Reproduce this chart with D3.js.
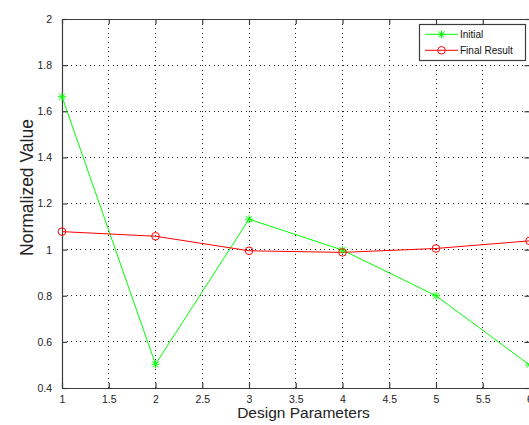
<!DOCTYPE html>
<html>
<head>
<meta charset="utf-8">
<script src="https://cdn.jsdelivr.net/npm/d3@7"></script>
<style>
html,body{margin:0;padding:0;background:#fff;overflow:hidden;}
svg{display:block;font-family:"Liberation Sans",Arial,Helvetica,sans-serif;}
</style>
</head>
<body>
<svg id="chart" width="529" height="425"></svg>
<script>
const designParams = [1, 2, 3, 4, 5, 6];
const initialValues = [1.663, 0.503, 1.132, 0.998, 0.800, 0.500];
const finalValues = [1.078, 1.058, 0.995, 0.988, 1.005, 1.038];
const xTicks = [1, 1.5, 2, 2.5, 3, 3.5, 4, 4.5, 5, 5.5, 6];
const yTicks = [0.4, 0.6, 0.8, 1, 1.2, 1.4, 1.6, 1.8, 2];
const seriesNames = ["Initial", "Final Result"];
const seriesColors = ["#00ff00", "#ff0000"];

const svg = d3.select("#chart");
const L = 62, R = 529.5, T = 19, B = 388;
const x = d3.scaleLinear().domain([1, 6]).range([L, R]);
const y = d3.scaleLinear().domain([0.4, 2]).range([B, T]);
const axisColor = "#3c3c3c";

// grid
const grid = svg.append("g");
grid.selectAll("line.vg").data(xTicks.slice(1, -1)).enter().append("line")
  .attr("x1", d => x(d)).attr("x2", d => x(d)).attr("y1", T).attr("y2", B)
  .attr("stroke", "#222").attr("stroke-width", 1).attr("stroke-dasharray", "1,3.6")
  .attr("shape-rendering", "crispEdges");
grid.selectAll("line.hg").data(yTicks.slice(1, -1)).enter().append("line")
  .attr("y1", d => y(d)).attr("y2", d => y(d)).attr("x1", L).attr("x2", R)
  .attr("stroke", "#222").attr("stroke-width", 1).attr("stroke-dasharray", "1,3.6")
  .attr("shape-rendering", "crispEdges");

const fmt = d => String(d);
// axes (ticks inward)
const axB = svg.append("g").attr("transform", `translate(0,${B})`)
  .call(d3.axisBottom(x).tickValues(xTicks).tickFormat(fmt).tickSizeInner(-5).tickSizeOuter(0).tickPadding(8));
const axT = svg.append("g").attr("transform", `translate(0,${T})`)
  .call(d3.axisTop(x).tickValues(xTicks).tickFormat("").tickSizeInner(-5).tickSizeOuter(0));
const axL = svg.append("g").attr("transform", `translate(${L},0)`)
  .call(d3.axisLeft(y).tickValues(yTicks).tickFormat(fmt).tickSizeInner(-5).tickSizeOuter(0).tickPadding(10));
const axR = svg.append("g").attr("transform", `translate(${R},0)`)
  .call(d3.axisRight(y).tickValues(yTicks).tickFormat("").tickSizeInner(-5).tickSizeOuter(0));
[axB, axT, axL, axR].forEach(a => {
  a.select(".domain").attr("stroke", axisColor).attr("stroke-width", 1.2);
  a.selectAll(".tick line").attr("stroke", axisColor).attr("stroke-width", 1.2);
  a.selectAll("text").attr("fill", "#222").style("font-size", "10.5px")
   .style("font-family", "'Liberation Sans',Arial,sans-serif");
});

// lines
const line = d3.line().x((d, i) => x(designParams[i])).y(d => y(d));
const allSeries = [initialValues, finalValues];
allSeries.forEach((vals, si) => {
  svg.append("path").datum(vals).attr("d", line)
    .attr("fill", "none").attr("stroke", seriesColors[si]).attr("stroke-width", 1);
});

function star(g, cx, cy, c, s) {
  const p = `M${cx - s},${cy}L${cx + s},${cy}M${cx},${cy - s}L${cx},${cy + s}` +
    `M${cx - s * 0.75},${cy - s * 0.75}L${cx + s * 0.75},${cy + s * 0.75}` +
    `M${cx - s * 0.75},${cy + s * 0.75}L${cx + s * 0.75},${cy - s * 0.75}`;
  g.append("path").attr("d", p).attr("stroke", c).attr("stroke-width", 1).attr("fill", "none");
}
function circ(g, cx, cy, c, r) {
  g.append("circle").attr("cx", cx).attr("cy", cy).attr("r", r)
    .attr("fill", "none").attr("stroke", c).attr("stroke-width", 1);
}
const mk = svg.append("g");
initialValues.forEach((v, i) => star(mk, x(designParams[i]), y(v), seriesColors[0], 4));
finalValues.forEach((v, i) => circ(mk, x(designParams[i]), y(v), seriesColors[1], 3.8));

// legend
const lg = svg.append("g");
lg.append("rect").attr("x", 419.5).attr("y", 24.5).attr("width", 106).attr("height", 36)
  .attr("fill", "#fff").attr("stroke", axisColor).attr("stroke-width", 1.2);
const legY = [34.3, 50.3];
seriesNames.forEach((n, i) => {
  lg.append("line").attr("x1", 425).attr("x2", 458).attr("y1", legY[i]).attr("y2", legY[i])
    .attr("stroke", seriesColors[i]).attr("stroke-width", 1);
  if (i === 0) star(lg, 441.5, legY[i], seriesColors[i], 4);
  else circ(lg, 441.5, legY[i], seriesColors[i], 3.8);
  lg.append("text").attr("x", 460).attr("y", legY[i] + 3.6).text(n)
    .attr("fill", "#111").style("font-size", "10px");
});

// axis labels
svg.append("text").attr("x", 303.5).attr("y", 418).attr("text-anchor", "middle")
  .style("font-size", "15.5px").attr("fill", "#222").text("Design Parameters");
svg.append("text").attr("transform", "translate(32.5,187.5) rotate(-90)").attr("text-anchor", "middle")
  .style("font-size", "17.5px").attr("fill", "#222").text("Normalized Value");
</script>
</body>
</html>
